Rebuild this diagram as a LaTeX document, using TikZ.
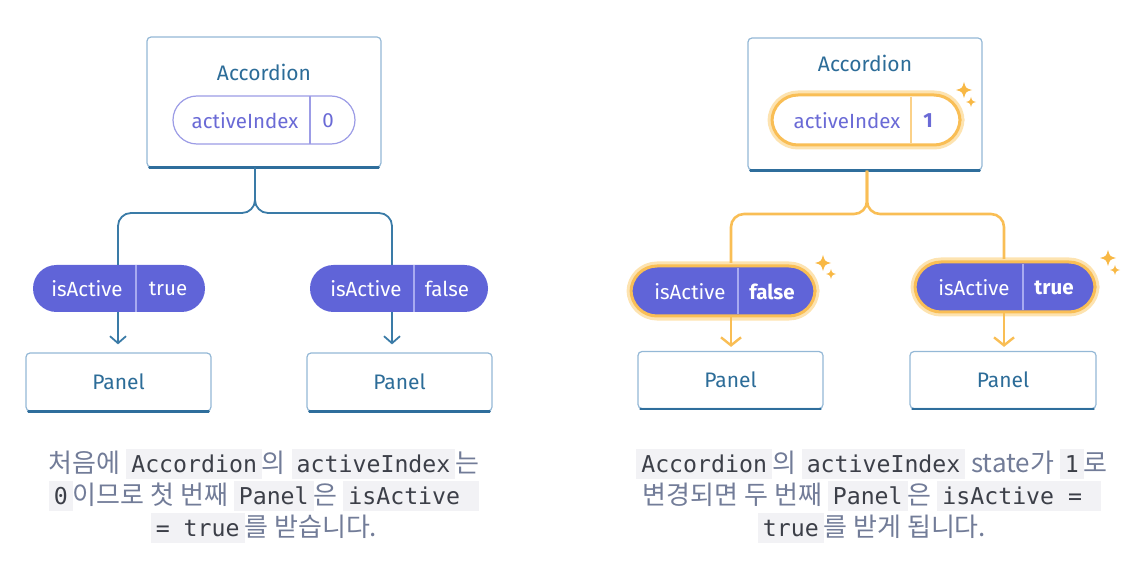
\documentclass[tikz,border=0pt]{standalone}
\usepackage{fontspec}
\usetikzlibrary{arrows.meta,calc}
\newfontfamily\labfont{Fira Sans}
\newfontfamily\krfont{Noto Sans CJK KR}
\newfontfamily\monofont{DejaVu Sans Mono}
\definecolor{boxline}{HTML}{94B8D6}
\definecolor{boxdark}{HTML}{2F6E9C}
\definecolor{labblue}{HTML}{2C6C98}
\definecolor{conn}{HTML}{3A7BA7}
\definecolor{pillfill}{HTML}{6064D8}
\definecolor{pilldivc}{HTML}{A8AAF0}
\definecolor{pillline}{HTML}{9C9CE6}
\definecolor{pilltext}{HTML}{6A6AD6}
\definecolor{orange}{HTML}{F9BE55}
\definecolor{glow}{HTML}{FDE3B0}
\definecolor{spark}{HTML}{F8B844}
\definecolor{captext}{HTML}{727C98}
\definecolor{codebg}{HTML}{F2F2F5}
\definecolor{codefg}{HTML}{3C3F48}
\newcommand{\cd}[1]{{\setlength{\fboxsep}{0pt}\colorbox{codebg}{\rule[-7pt]{0pt}{30pt}\hspace{5pt}{\monofont\fontsize{23.2}{32}\selectfont\color{codefg}#1}\hspace{5pt}}}}
\newcommand{\sparkle}[3]{%
  \fill[spark] (#1,#2-#3) .. controls (#1+0.22*#3,#2-0.22*#3) .. (#1+#3,#2)
    .. controls (#1+0.22*#3,#2+0.22*#3) .. (#1,#2+#3)
    .. controls (#1-0.22*#3,#2+0.22*#3) .. (#1-#3,#2)
    .. controls (#1-0.22*#3,#2-0.22*#3) .. cycle;}
\tikzset{
  compbox/.style={draw=boxline, line width=1.2pt, rounded corners=4pt, fill=white, inner sep=0pt},
  boxbottom/.style={draw=boxdark, line width=2.6pt, line cap=round},
  lab/.style={font=\labfont\fontsize{21}{25}\selectfont, text=labblue, inner sep=0pt},
  whitelab/.style={font=\labfont\fontsize{20.5}{24}\selectfont, text=white, inner sep=0pt},
  purplab/.style={font=\labfont\fontsize{20.5}{24}\selectfont, text=pilltext, inner sep=0pt},
  statepill/.style={draw=pillline, line width=1.2pt, fill=white, rounded corners=24pt, inner sep=0pt},
  proppill/.style={fill=pillfill, rounded corners=23.5pt, inner sep=0pt},
  glowpill/.style={draw=orange, line width=3pt, preaction={draw=glow, line width=9pt}, rounded corners=26pt, inner sep=0pt},
  conline/.style={draw=conn, line width=1.8pt},
  orline/.style={draw=orange, line width=2.6pt},
  barb/.style={-{Straight Barb[length=7pt,width=16pt,line width=1.8pt]}},
  orbarb/.style={-{Straight Barb[length=8pt,width=20pt,line width=2.4pt]}},
  caption/.style={font=\krfont\fontsize{26}{32}\selectfont, text=captext, align=center, inner sep=0pt}
}
\begin{document}
\begin{tikzpicture}[x=1pt,y=-1pt]
\useasboundingbox (0,0) rectangle (1144,580);

% ================= LEFT =================
\node[compbox, minimum width=234pt, minimum height=130pt] (accL) at (264,102) {};
\draw[boxbottom] ($(accL.south west)+(3,0)$) -- ($(accL.south east)+(-3,0)$);
\node[lab] (accLt) at (264,72) {Accordion};
\node[statepill, minimum width=182pt, minimum height=48pt] (spL) at (264,120) {};
\draw[draw=pillline, line width=1.2pt] (310,96) -- (310,144);
\node[purplab] (spLk) at (245,121) {activeIndex};
\node[purplab] (spLv) at (328,121) {0};

\coordinate (brL) at (255,213);
\node[proppill, minimum width=172pt, minimum height=47pt] (pLa) at (119,288.5) {};
\draw[draw=pilldivc, line width=1.2pt] (136,265) -- (136,312);
\node[whitelab] (pLak) at (87,289) {isActive};
\node[whitelab] (pLav) at (168,289) {true};
\node[proppill, minimum width=178pt, minimum height=47pt] (pLb) at (399,288.5) {};
\draw[draw=pilldivc, line width=1.2pt] (414,265) -- (414,312);
\node[whitelab] (pLbk) at (366,289) {isActive};
\node[whitelab] (pLbv) at (447,289) {false};

\coordinate (tLa) at (118,265);
\coordinate (tLb) at (392,265);
\draw[conline, rounded corners=13pt] (accL.south -| brL) -- (brL) -- (brL -| tLa) -- (tLa);
\draw[conline, rounded corners=13pt] (accL.south -| brL) -- (brL) -- (brL -| tLb) -- (tLb);

\node[compbox, minimum width=185pt, minimum height=58pt] (panLa) at (118.5,382) {};
\draw[boxbottom] ($(panLa.south west)+(3,0)$) -- ($(panLa.south east)+(-3,0)$);
\node[lab] at (panLa.center) {Panel};
\node[compbox, minimum width=185pt, minimum height=58pt] (panLb) at (399.5,382) {};
\draw[boxbottom] ($(panLb.south west)+(3,0)$) -- ($(panLb.south east)+(-3,0)$);
\node[lab] at (panLb.center) {Panel};

\draw[conline, barb] (pLa.south -| tLa) -- ($(panLa.north -| tLa)+(0,-8)$);
\draw[conline, barb] (pLb.south -| tLb) -- ($(panLb.north -| tLb)+(0,-8)$);

\node[caption] (capL) at (264,496) {처음에 \cd{Accordion}의 \cd{activeIndex}는\\
\cd{0}이므로 첫 번째 \cd{Panel}은 \cd{isActive~}\\
\cd{= true}를 받습니다.};

% ================= RIGHT =================
\node[compbox, minimum width=234pt, minimum height=132pt] (accR) at (865,104) {};
\draw[boxbottom] ($(accR.south west)+(3,0)$) -- ($(accR.south east)+(-3,0)$);
\node[lab] (accRt) at (865,63) {Accordion};
\node[glowpill, fill=white, minimum width=188pt, minimum height=50pt] (spR) at (866,120) {};
\draw[draw=orange!70!white, line width=1.2pt] (911,97) -- (911,143);
\node[purplab] (spRk) at (847,121) {activeIndex};
\node[purplab, font=\labfont\bfseries\fontsize{20.5}{24}\selectfont] (spRv) at (928,121) {1};
\sparkle{964}{90}{8}
\sparkle{971}{102}{5}

\coordinate (brR) at (867,214);
\node[glowpill, fill=pillfill, minimum width=184pt, minimum height=50pt] (pRa) at (723,291) {};
\draw[draw=pilldivc, line width=1.2pt] (738,268) -- (738,314);
\node[whitelab] (pRak) at (690,292) {isActive};
\node[whitelab, font=\labfont\bfseries\fontsize{20.5}{24}\selectfont] (pRav) at (772,292) {false};
\node[glowpill, fill=pillfill, minimum width=180pt, minimum height=50pt] (pRb) at (1005,287) {};
\draw[draw=pilldivc, line width=1.2pt] (1023,264) -- (1023,310);
\node[whitelab] (pRbk) at (974,288) {isActive};
\node[whitelab, font=\labfont\bfseries\fontsize{20.5}{24}\selectfont] (pRbv) at (1054,288) {true};
\sparkle{823}{263}{8}
\sparkle{831}{274}{5}
\sparkle{1108}{258}{8}
\sparkle{1115}{270}{5}

\coordinate (tRa) at (731,263);
\coordinate (tRb) at (1004,259);
\draw[orline, rounded corners=13pt] (accR.south -| brR) -- (brR) -- (brR -| tRa) -- (tRa);
\draw[orline, rounded corners=13pt] (accR.south -| brR) -- (brR) -- (brR -| tRb) -- (tRb);

\node[compbox, minimum width=185pt, minimum height=57pt] (panRa) at (730.5,380) {};
\draw[boxbottom] ($(panRa.south west)+(3,0)$) -- ($(panRa.south east)+(-3,0)$);
\node[lab] at (panRa.center) {Panel};
\node[compbox, minimum width=186pt, minimum height=57pt] (panRb) at (1003,380) {};
\draw[boxbottom] ($(panRb.south west)+(3,0)$) -- ($(panRb.south east)+(-3,0)$);
\node[lab] at (panRb.center) {Panel};

\draw[orline, orbarb] (pRa.south -| tRa) -- ($(panRa.north -| tRa)+(0,-4)$);
\draw[orline, orbarb] (pRb.south -| tRb) -- ($(panRb.north -| tRb)+(0,-4)$);

\node[caption] (capR) at (872,496) {\cd{Accordion}의 \cd{activeIndex} state가 \cd{1}로\\
변경되면 두 번째 \cd{Panel}은 \cd{isActive =~}\\
\cd{true}를 받게 됩니다.};
\end{tikzpicture}
\end{document}
